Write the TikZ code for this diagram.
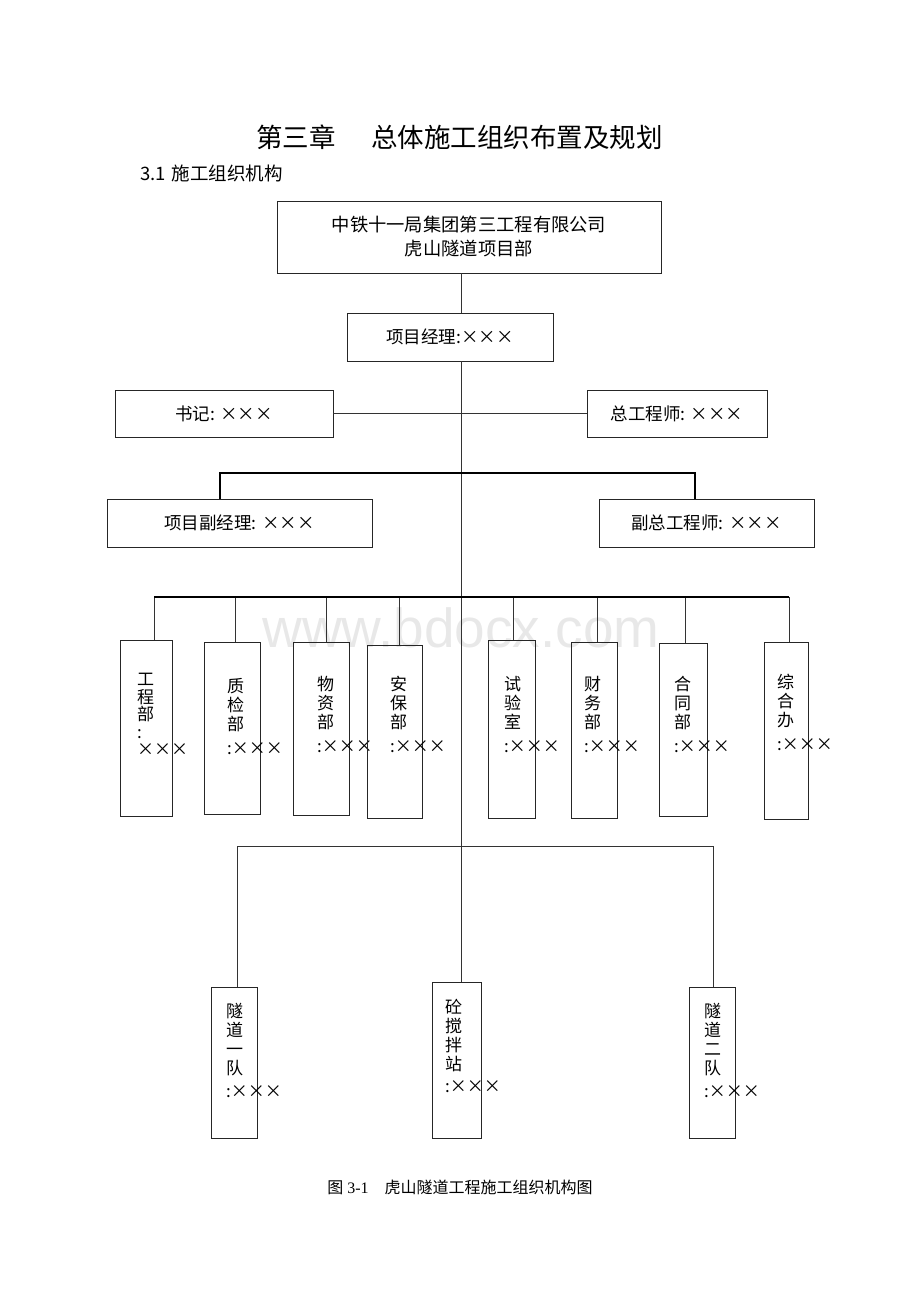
\documentclass[tikz,border=0pt]{standalone}
\usepackage{fontspec}
\setmainfont{Liberation Serif}
\newfontfamily\cjk{Noto Sans CJK SC}
\newfontfamily\wmfont{Liberation Sans}

\tikzset{
  box/.style={draw=black!85, line width=.9pt, inner sep=0pt},
  link/.style={draw=black!80, line width=.9pt},
  bar/.style={draw=black, line width=2.2pt},
  btext/.style={font=\cjk\fontsize{17.5}{24}\selectfont},
  vtext/.style={anchor=north west, align=left, inner sep=0pt,
    font=\cjk\fontsize{17}{19}\selectfont},
}

\begin{document}
\begin{tikzpicture}[x=1pt, y=-1pt]
  \useasboundingbox (0,0) rectangle (920,1302);
  \node[text=black!9, font=\wmfont\fontsize{55}{60}\selectfont] (wm) at (461,628) {www.bdocx.com};

  \node[font=\cjk\fontsize{26.5}{30}\selectfont] (title) at (459.5,137)
    {第三章\hspace{36pt}总体施工组织布置及规划};
  \node[anchor=west, inner sep=0pt, font=\cjk\fontsize{18.5}{20}\selectfont] (sec) at (140,173)
    {3.1\hspace{6pt}施工组织机构};

  \node[box, minimum width=384, minimum height=72, align=center,
    font=\cjk\fontsize{18.3}{24}\selectfont] (top) at (469,237)
    {中铁十一局集团第三工程有限公司\\虎山隧道项目部};
  \node[box, btext, minimum width=206, minimum height=48] (pm) at (450,337) {项目经理:×××};
  \node[box, btext, minimum width=218, minimum height=47] (sj) at (224,413.5) {书记: ×××};
  \node[box, btext, minimum width=180, minimum height=47] (zg) at (677,413.5) {总工程师: ×××};
  \node[box, btext, minimum width=265, minimum height=48] (fjl) at (239.5,523) {项目副经理: ×××};
  \node[box, btext, minimum width=215, minimum height=48] (fzg) at (706.5,523) {副总工程师: ×××};

  \coordinate (fb) at (461,473);
  \coordinate (db) at (461,597);
  \coordinate (tk) at (461,846);

  \draw[link] (top.south -| tk) -- (pm.north -| tk);
  \draw[link] (pm.south -| tk) -- (tk);
  \draw[link] (sj) -- (zg);
  \draw[bar] ([xshift=-19.5]fjl.north) |- (fb) -| ([xshift=-11.5]fzg.north);

  \foreach \i/\xa/\xb/\ya/\yb/\tx/\ty/\dx/\txt in {
    1/120/172/640/816/137/673/8/{工\\[-1.5pt]程\\[-1.5pt]部\\[-1.5pt]:\\[-1.5pt]×××},
    2/204/260/642/814/227/678/3/{质\\检\\部\\[5pt]:×××},
    3/293/349/642/815/317/676/5/{物\\资\\部\\[5pt]:×××},
    4/367/422/645/818/390/676/4.5/{安\\保\\部\\[5pt]:×××},
    5/488/535/640/818/504/676/1.5/{试\\验\\室\\[5pt]:×××},
    6/571/617/642/818/584/676/3/{财\\务\\部\\[5pt]:×××},
    7/659/707/643/816/674/676/2/{合\\同\\部\\[5pt]:×××},
    8/764/808/642/819/777/674/3/{综\\合\\办\\[5pt]:×××}} {
    \node[box, minimum width=\xb-\xa, minimum height=\yb-\ya] (d\i) at ({(\xa+\xb)/2},{(\ya+\yb)/2}) {};
    \node[vtext] (dt\i) at (\tx,\ty) {\txt};
    \draw[link] ([xshift=\dx]d\i.north) -- ([xshift=\dx]d\i.north |- db);
  }
  \draw[bar] ([xshift=8]d1.north |- db) -- ([xshift=3]d8.north |- db);

  \foreach \i/\xa/\xb/\ya/\yb/\tx/\ty/\txt in {
    1/211/257/987/1138/226/1003/{隧\\道\\一\\队\\[4pt]:×××},
    2/432/481/982/1138/445/999/{砼\\搅\\拌\\站\\[3pt]:×××},
    3/689/735/987/1138/704/1003/{隧\\道\\二\\队\\[4pt]:×××}} {
    \node[box, minimum width=\xb-\xa, minimum height=\yb-\ya] (t\i) at ({(\xa+\xb)/2},{(\ya+\yb)/2}) {};
    \node[vtext] (tt\i) at (\tx,\ty) {\txt};
  }
  \draw[link] ([xshift=3]t1.north) |- (tk) -| ([xshift=1]t3.north);
  \draw[link] ([xshift=4.5]t2.north) -- ([xshift=4.5]t2.north |- tk);

  \node[font=\fontsize{16}{18}\selectfont] (cap) at (460,1187)
    {{\cjk 图} 3-1\hspace{16pt}{\cjk 虎山隧道工程施工组织机构图}};
\end{tikzpicture}
\end{document}
